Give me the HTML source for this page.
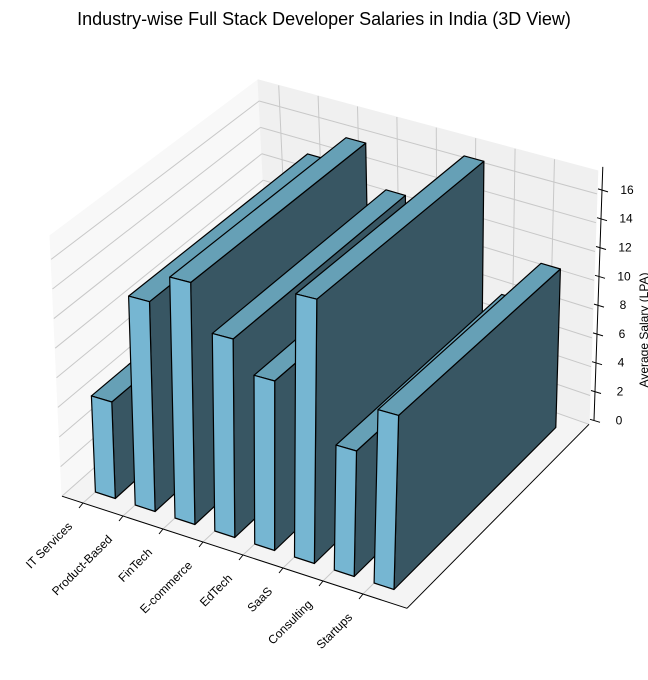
<!DOCTYPE html>
<html><head><meta charset="utf-8">
<style>
html,body{margin:0;padding:0;background:#fff;}
svg{display:block;font-family:"Liberation Sans","DejaVu Sans",sans-serif;}
</style></head>
<body>
<svg id="chart" width="648" height="680" viewBox="0 0 648 680" xmlns="http://www.w3.org/2000/svg">
<text x="324" y="25" text-anchor="middle" font-size="18" fill="#000">Industry-wise Full Stack Developer Salaries in India (3D View)</text>
<g id="panes"></g><g id="grid"></g><g id="axes"></g><g id="bars"></g><g id="labels"></g>
<text transform="translate(648,330) rotate(-90)" text-anchor="middle" font-size="12" fill="#000">Average Salary (LPA)</text>
</svg>
<script>
const categories = ["IT Services","Product-Based","FinTech","E-commerce","EdTech","SaaS","Consulting","Startups"];
const salaries = [6.5, 14, 16, 13, 11, 17, 8, 11];
const zTicks = [0, 2, 4, 6, 8, 10, 12, 14, 16];

const NS = "http://www.w3.org/2000/svg";
const xa = -0.525, xb = 8.1, zmax = 17.6;
function P(x, y, z) {
  const xn = (x - xa) / (xb - xa);
  const s = 14.8 + 1.2 * xn - 1.6 * y;
  const lean = -0.68 + 1.18 * xn;
  const vx = 208 - 26 * xn;
  return [83 + 40 * x + vx * y + lean * z, 503 + 13 * x - 184 * y - s * z];
}
function pts(arr) { return arr.map(p => p[0].toFixed(1) + "," + p[1].toFixed(1)).join(" "); }
function poly(g, arr, fill, stroke, sw) {
  const e = document.createElementNS(NS, "polygon");
  e.setAttribute("points", pts(arr));
  e.setAttribute("fill", fill);
  e.setAttribute("stroke", stroke);
  e.setAttribute("stroke-width", sw);
  e.setAttribute("stroke-linejoin", "round");
  g.appendChild(e); return e;
}
function line(g, a, b, color, w) {
  const e = document.createElementNS(NS, "line");
  e.setAttribute("x1", a[0]); e.setAttribute("y1", a[1]);
  e.setAttribute("x2", b[0]); e.setAttribute("y2", b[1]);
  e.setAttribute("stroke", color); e.setAttribute("stroke-width", w);
  g.appendChild(e); return e;
}
const panes = document.getElementById("panes");
const grid = document.getElementById("grid");
const axes = document.getElementById("axes");
const bars = document.getElementById("bars");
const labels = document.getElementById("labels");

let e;
e = poly(panes, [P(xa,0,0),P(xb,0,0),P(xb,1,0),P(xa,1,0)], "#f4f4f4", "#f4f4f4", 1);


e = poly(panes, [P(xa,0,0),P(xa,1,0),P(xa,1,zmax),P(xa,0,zmax)], "#f8f8f8", "#f8f8f8", 1);


e = poly(panes, [P(xa,1,0),P(xb,1,0),P(xb,1,zmax),P(xa,1,zmax)], "#f0f0f0", "#f0f0f0", 1);



zTicks.forEach(z => {
  e = line(grid, P(xa,1,z), P(xb,1,z), "#c8c8c8", 1);
  
  
  e = line(grid, P(xa,0,z), P(xa,1,z), "#c8c8c8", 1);
  
  
});
categories.forEach((c, i) => {
  e = line(grid, P(i,1,0), P(i,1,zmax), "#c8c8c8", 1);
  
  
  e = line(grid, P(i,0,0), P(i,1,0), "#c8c8c8", 1);
  
  
});

e = line(axes, P(xa,0,0), P(xb,0,0), "#000", 1);


e = line(axes, P(xb,0,0), P(xb,1,0), "#000", 1);


const za = P(xb,1,0), zb = P(xb,1,zmax);
e = line(axes, [za[0]+5, za[1]-4], [zb[0]+5, zb[1]-4], "#000", 1);


zTicks.forEach(z => {
  const p = P(xb,1,z);
  e = line(axes, [p[0]+1, p[1]-5], [p[0]+11, p[1]-2], "#000", 1);
  
  
  const t = document.createElementNS(NS, "text");
  
  
  t.setAttribute("x", p[0] + 30); t.setAttribute("y", p[1]);
  t.setAttribute("text-anchor", "middle"); t.setAttribute("font-size", "12");
  t.textContent = z;
  labels.appendChild(t);
});

categories.forEach((c, i) => {
  const p = P(i,0,0);
  e = line(axes, p, [p[0]-4, p[1]+5], "#000", 1);
  
  
  const t = document.createElementNS(NS, "text");
  
  
  const lx = p[0] - 10, ly = p[1] + 24;
  t.setAttribute("transform", "translate(" + lx.toFixed(1) + "," + ly.toFixed(1) + ") rotate(-45)");
  t.setAttribute("text-anchor", "end"); t.setAttribute("font-size", "12");
  t.textContent = c;
  labels.appendChild(t);
});

const y0 = 0.06, y1 = 0.94, bw = 0.5;
salaries.forEach((v, i) => {
  const g = document.createElementNS(NS, "g");
  
  
  const x0 = i, x1 = i + bw;
  poly(g, [P(x1,y0,0),P(x1,y1,0),P(x1,y1,v),P(x1,y0,v)], "#385663", "#000", 1.2);
  poly(g, [P(x0,y0,v),P(x1,y0,v),P(x1,y1,v),P(x0,y1,v)], "#66a0b6", "#000", 1.2);
  poly(g, [P(x0,y0,0),P(x1,y0,0),P(x1,y0,v),P(x0,y0,v)], "#76b6d2", "#000", 1.2);
  bars.appendChild(g);
});
</script>
</body></html>
